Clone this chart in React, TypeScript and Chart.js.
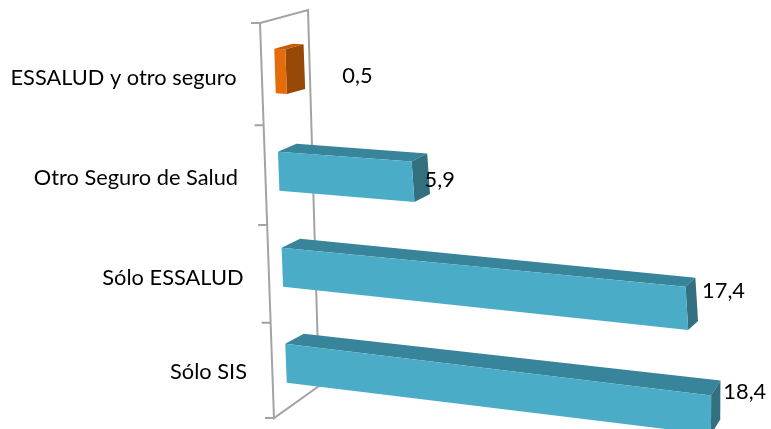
import React, { useEffect, useRef } from "react";
import { Chart, registerables } from "chart.js";

Chart.register(...registerables);

const categories = ["ESSALUD y otro seguro", "Otro Seguro de Salud", "Sólo ESSALUD", "Sólo SIS"];
const values = [0.5, 5.9, 17.4, 18.4];
const valueLabels = ["0,5", "5,9", "17,4", "18,4"];
const frontColors = ["#E46C0A", "#4BACC8", "#4BACC8", "#4BACC8"];
const topColors = ["#C55D08", "#38849B", "#38849B", "#38849B"];
const sideColors = ["#984807", "#32707F", "#32707F", "#32707F"];

const FONT = "21.8px Lato";
const FRAME = "#a3a3a3";

// perspective of the front plane: rows (t) and scale pixels (u) to the picture
const x0 = (t: number) => 275 + 3.67 * (t - 0.5);
const y0 = (t: number) => 27.2 + 96 * t - 14 * Math.max(0, 0.8 - t);
const slope = (t: number) => Math.min(0.122, 0.04 + 0.025 * t);
const stretch = (t: number) => (t < 2.5 ? 0.95 + 0.024 * t : 1.01 - 0.01 * (t - 2.5));
const warp = (u: number, t: number): [number, number] => [x0(t) + u * stretch(t), y0(t) + u * slope(t)];
const depth = (val: number, t: number): [number, number] => [
  18.5 - 0.5 * val,
  -(5 + 3 * Math.min(Math.max(t - 0.5, 0), 1) + Math.max(0, t - 1.5) * 1) -
    (5 * Math.max(0, t - 2.5) * val) / 18.4,
];

const poly = (ctx: CanvasRenderingContext2D, pts: [number, number][], fill: string) => {
  ctx.beginPath();
  pts.forEach((p, i) => (i ? ctx.lineTo(p[0], p[1]) : ctx.moveTo(p[0], p[1])));
  ctx.closePath();
  ctx.fillStyle = fill;
  ctx.fill();
};

const wallLeft = (t: number): [number, number] => {
  const y = 23 + 103.25 * t - 1.125 * t * t;
  return [260 + (14 * (y - 23)) / 395, y];
};

const valueLabelShift: [number, number][] = [
  [38, 7],
  [-4, 4],
  [4, -10],
  [3, -10],
];
const categoryLabelShift: [number, number][] = [
  [0, 0],
  [-2, 2],
  [0, 3],
  [0, -1],
];

const perspectivePlugin = {
  id: "perspective",
  beforeDatasetDraw(chart: any, args: any) {
    const { ctx, scales } = chart;
    const xs = scales.x;
    const ys = scales.y;
    const rowH = ys.height / categories.length;
    const toT = (v: number) => (v - ys.top) / rowH;

    // walls of the 3-D box
    ctx.save();
    ctx.strokeStyle = FRAME;
    ctx.lineWidth = 2;
    const a = wallLeft(0);
    const b = wallLeft(categories.length);
    const c: [number, number] = [319, 386];
    const d: [number, number] = [308, 10];
    ctx.beginPath();
    ctx.moveTo(a[0], a[1]);
    ctx.lineTo(b[0], b[1]);
    ctx.lineTo(c[0], c[1]);
    ctx.lineTo(d[0], d[1]);
    ctx.closePath();
    ctx.stroke();
    ctx.beginPath();
    for (let i = 0; i <= categories.length; i++) {
      const p = wallLeft(i);
      ctx.moveTo(p[0] - 9, p[1]);
      ctx.lineTo(p[0], p[1]);
    }
    ctx.stroke();
    ctx.restore();

    const meta = chart.getDatasetMeta(args.index);
    meta.data.forEach((el: any, i: number) => {
      const u = el.x - xs.getPixelForValue(0);
      const t1 = toT(el.y - el.height / 2);
      const t2 = toT(el.y + el.height / 2);
      const tm = (t1 + t2) / 2;
      const [dx0, dy0] = depth(0, tm);
      const [dx1, dy1] = depth(values[i], tm);
      const fl1 = warp(0, t1);
      const fr1 = warp(u, t1);
      const fr2 = warp(u, t2);
      const fl2 = warp(0, t2);
      const bl1: [number, number] = [fl1[0] + dx0, fl1[1] + dy0];
      const br1: [number, number] = [fr1[0] + dx1, fr1[1] + dy1];
      const br2: [number, number] = [fr2[0] + dx1, fr2[1] + dy1];
      poly(ctx, [fl1, bl1, br1, fr1], topColors[i]);
      poly(ctx, [fr1, br1, br2, fr2], sideColors[i]);
      poly(ctx, [fl1, fr1, fr2, fl2], frontColors[i]);

      ctx.save();
      ctx.font = FONT;
      ctx.fillStyle = "#000";
      ctx.textBaseline = "middle";
      ctx.textAlign = "left";
      const base = warp(u, tm);
      ctx.fillText(valueLabels[i], base[0] + dx1 + valueLabelShift[i][0], base[1] + dy1 + 2 + valueLabelShift[i][1]);
      ctx.textAlign = "right";
      ctx.fillText(
        categories[i],
        236.5 + 3.5 * (tm - 0.5) + categoryLabelShift[i][0],
        78 + 98.4 * (tm - 0.5) + categoryLabelShift[i][1]
      );
      ctx.restore();
    });
    return false;
  },
};

export default function App() {
  const ref = useRef<HTMLCanvasElement>(null);
  useEffect(() => {
    document.body.style.margin = "0";
    const chart = new Chart(ref.current!, {
      type: "bar",
      data: {
        labels: categories,
        datasets: [{ data: values, backgroundColor: frontColors, barPercentage: 0.406, categoryPercentage: 1 }],
      },
      options: {
        indexAxis: "y",
        animation: false,
        responsive: false,
        layout: { padding: { left: 275, right: 34, top: 27, bottom: 18 } },
        plugins: { legend: { display: false }, tooltip: { enabled: false }, title: { display: false } },
        scales: {
          x: { display: false, min: 0, max: 20 },
          y: { display: false },
        },
      },
      plugins: [perspectivePlugin],
    } as any);
    return () => chart.destroy();
  }, []);
  return <canvas ref={ref} width={771} height={429} style={{ display: "block" }} />;
}
